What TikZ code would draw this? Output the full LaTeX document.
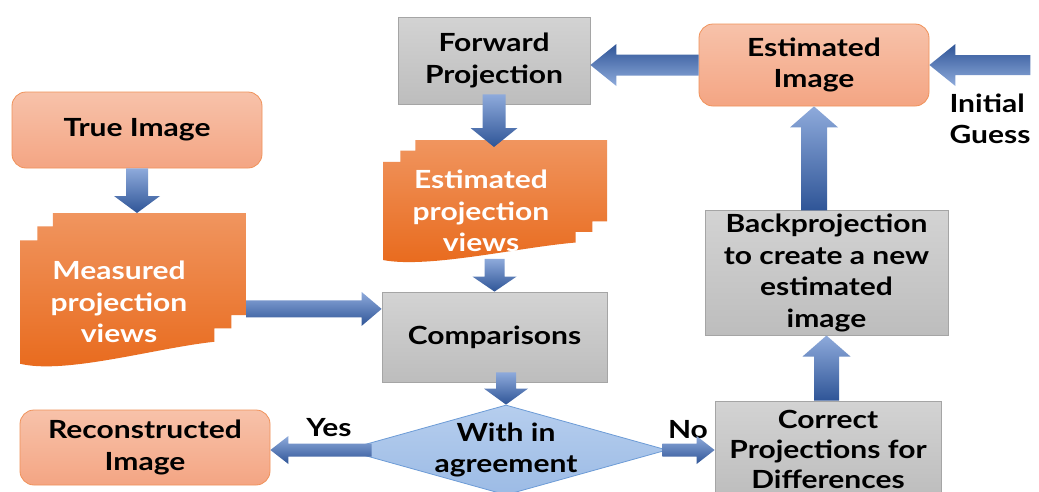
\documentclass[tikz,border=0pt]{standalone}
\usepackage{fontspec}
\setmainfont{Lato}[FakeStretch=1.2]
\usetikzlibrary{shapes.geometric,calc,positioning}
\definecolor{salmontop}{HTML}{F7C2AA}
\definecolor{salmonbot}{HTML}{F4A583}
\definecolor{salmonline}{HTML}{F0925A}
\definecolor{graytop}{HTML}{D3D3D3}
\definecolor{graybot}{HTML}{BDBDBD}
\definecolor{grayline}{HTML}{A5A5A5}
\definecolor{doctop}{HTML}{F0955F}
\definecolor{docbot}{HTML}{E8691B}
\definecolor{flowlight}{HTML}{8EAADB}
\definecolor{flowdark}{HTML}{2F5597}
\definecolor{diatop}{HTML}{B6CEEE}
\definecolor{diabot}{HTML}{9CBBE5}
\definecolor{dialine}{HTML}{6C9BD6}
\tikzset{
    bshaft/.store in=\bshaft, bhead/.store in=\bhead, blen/.store in=\blen,
    bshaft=11pt, bhead=23pt, blen=19pt,
    flow/.style={top color=flowlight, bottom color=flowdark, draw=none,
        to path={($(\tikztostart)!\bshaft!90:(\tikztotarget)$)
            -- ($(\tikztotarget)!\blen!(\tikztostart)!\bshaft!-90:(\tikztostart)$)
            -- ($(\tikztotarget)!\blen!(\tikztostart)!\bhead!-90:(\tikztostart)$)
            -- (\tikztotarget)
            -- ($(\tikztotarget)!\blen!(\tikztostart)!\bhead!90:(\tikztostart)$)
            -- ($(\tikztotarget)!\blen!(\tikztostart)!\bshaft!90:(\tikztostart)$)
            -- ($(\tikztostart)!\bshaft!-90:(\tikztotarget)$) -- cycle}},
    flowflip/.style={flow, top color=flowdark, bottom color=flowlight},
    txt/.style={font=\bfseries\fontsize{25}{31.5}\selectfont, align=center},
    graybox/.style={txt, rectangle, draw=grayline, line width=0.8pt, top color=graytop, bottom color=graybot},
    salmonbox/.style={txt, rectangle, rounded corners=14pt, draw=salmonline, line width=0.8pt, top color=salmontop, bottom color=salmonbot},
    doctext/.style={txt, text=white},
    decision/.style={diamond, draw=dialine, line width=0.8pt, top color=diatop, bottom color=diabot, minimum width=322pt, minimum height=90pt, inner sep=0pt},
    multidoc/.pic={
        \shade[top color=doctop, bottom color=docbot] (-0.355,-0.5) -- (0.5,-0.5) -- (0.5,0.15)
            -- (0.435,0.15) -- (0.435,0.235) -- (0.36,0.235) -- (0.36,0.32)
            .. controls (0.1,0.36) and (-0.3,0.53) .. (-0.5,0.46) -- (-0.5,-0.326)
            -- (-0.423,-0.326) -- (-0.423,-0.415) -- (-0.355,-0.415) -- cycle;
        \coordinate (-n) at (0,-0.5);
        \coordinate (-e) at (0.5,0.111);
        \coordinate (-s) at (0,0.45);
    }
}

\begin{document}
\begin{tikzpicture}[x=1pt, y=-1pt]
    \useasboundingbox[fill=white] (0,0) rectangle (1039,491);
    % boxes
    \node[salmonbox, minimum width=250pt, minimum height=76pt] (truei) at (137,130) {True Image};
    \node[graybox, minimum width=192pt, minimum height=87pt] (fwd) at (494,60.5) {Forward\\Projection};
    \node[salmonbox, minimum width=230pt, minimum height=82pt] (esti) at (814,65) {Estimated\\Image};
    \pic[xscale=226, yscale=157] (measdoc) at (133,291.5) {multidoc};
    \node[doctext] (meas) at (119,302) {Measured\\projection\\views};
    \pic[xscale=224, yscale=125] (estdoc) at (495,202.5) {multidoc};
    \node[doctext] (estv) at (481,211) {Estimated\\projection\\views};
    \node[graybox, minimum width=225pt, minimum height=90pt] (comp) at (494.5,337) {Comparisons};
    \node[decision] (agree) at (506,450) {};
    \node[txt] (agreetxt) at (agree.center) {With in\\agreement};
    \node[salmonbox, minimum width=250pt, minimum height=75pt] (recon) at (145,447.5) {Reconstructed\\Image};
    \node[graybox, minimum width=226pt, minimum height=96pt, font=\bfseries\fontsize{25}{30}\selectfont] (corr) at (828,449) {Correct\\Projections for\\Differences};
    \node[graybox, minimum width=243pt, minimum height=122pt] (back) at (826.5,273) {Backprojection\\to create a new\\estimated\\image};
    \node[txt, align=left, anchor=north west] (guess) at (946,90) {Initial\\Guess};
    \node[txt] (yes) at (329,428) {Yes};
    \node[txt] (no) at (688,430) {No};
    % connector ends
    \coordinate (mtop) at (truei.south |- measdoc-n);
    \coordinate (etop) at ($(fwd.south |- estdoc-n)+(0,7)$);
    \coordinate (fbot) at ($(fwd.south)+(0,-10)$);
    \coordinate (ebot) at (comp.north |- estdoc-s);
    \coordinate (cbot) at ($(agree.north |- comp.south)+(0,-10)$);
    \coordinate (cin) at (comp.west |- measdoc-e);
    \coordinate (fin) at (fwd.east |- esti.west);
    \coordinate (gstart) at ($(esti.east)+(101,0)$);
    \coordinate (yesstart) at ($(agree.west)+(27,0)$);
    \coordinate (yesend) at (recon.east |- agree.west);
    \coordinate (nostart) at ($(agree.east)+(-5,0)$);
    \coordinate (noend) at (corr.west |- agree.east);
    \coordinate (cup) at (back.south |- corr.north);
    \coordinate (bup) at (esti.south |- back.north);
    % block arrows
    \shade[flow, bshaft=11pt, bhead=23pt, blen=17pt] (truei.south) to (mtop);
    \shade[flow, bshaft=11.5pt, bhead=23.5pt, blen=19pt] (fbot) to (etop);
    \shade[flow, bshaft=10pt, bhead=22pt, blen=15pt] (ebot) to (comp.north);
    \shade[flow, bshaft=10pt, bhead=22pt, blen=16pt] (cbot) to (agree.north);
    \shade[flow, bshaft=8.5pt, bhead=17pt, blen=20pt] (measdoc-e) to (cin);
    \shade[flowflip, bshaft=10.5pt, bhead=21pt, blen=26pt] (esti.west) to (fin);
    \shade[flowflip, bshaft=10pt, bhead=21pt, blen=26pt] (gstart) to (esti.east);
    \shade[flow, bshaft=6.5pt, bhead=14pt, blen=18pt] (yesstart) to (yesend);
    \shade[flow, bshaft=6.5pt, bhead=14pt, blen=18pt] (nostart) to (noend);
    \shade[flow, bshaft=12.5pt, bhead=24pt, blen=21pt] (cup) to (back.south);
    \shade[flow, bshaft=13pt, bhead=24pt, blen=21pt] (bup) to (esti.south);
\end{tikzpicture}
\end{document}
